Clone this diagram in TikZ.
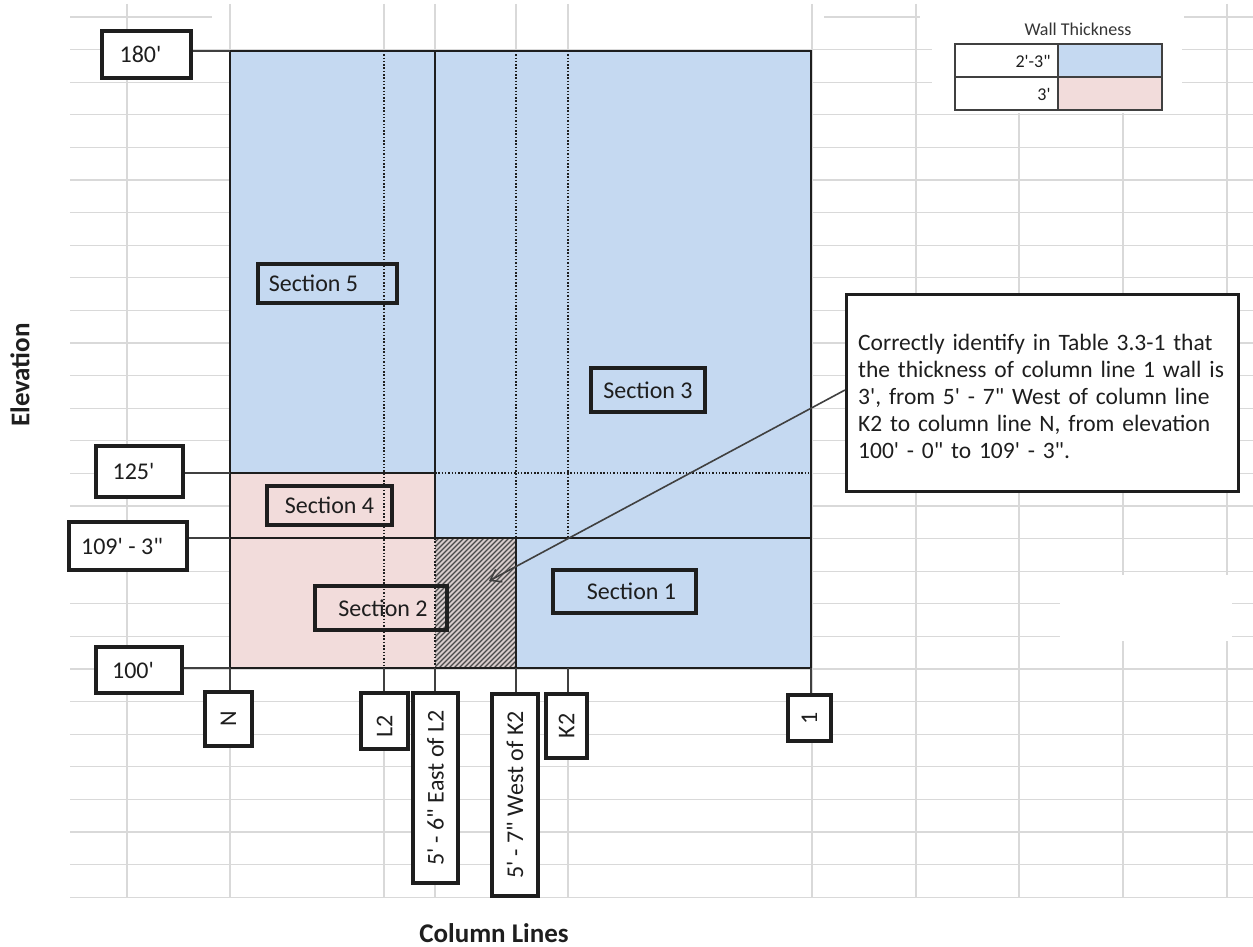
\documentclass[tikz,border=0pt]{standalone}
\usepackage{fontspec}
\setmainfont{Carlito}[Ligatures=TeXOff]
\usetikzlibrary{arrows.meta}
\definecolor{wallblue}{HTML}{C5D9F1}
\definecolor{wallpink}{HTML}{F2DCDB}
\definecolor{gridgray}{HTML}{D9D9D9}
\definecolor{ink}{HTML}{1E1E1E}
\definecolor{hatchbg}{HTML}{D8CCCC}
\definecolor{hatchline}{HTML}{4A4A4A}
\begin{document}
\begin{tikzpicture}[x=1pt,y=-1pt,
  gridline/.style={gridgray, line width=1.2pt},
  lblbox/.style={draw=ink, line width=3.5pt, fill=white, inner sep=0pt, text=ink, font=\fontsize{24}{28}\selectfont},
  secbox/.style={draw=ink, line width=4pt, inner sep=0pt, text=ink, font=\fontsize{24}{28}\selectfont},
  conn/.style={draw=ink!85, line width=1.8pt},
  dotline/.style={ink, line width=1.6pt, dash pattern=on 1.5pt off 1.8pt},
  solidline/.style={ink, line width=2.2pt},
  axislabel/.style={text=ink, font=\bfseries\fontsize{27}{30}\selectfont},
]
\useasboundingbox (0,0) rectangle (1253,947);
\fill[white] (0,0) rectangle (1253,947);
% spreadsheet grid
\draw[gridline] (70,17) -- (212,17) (824,17) -- (920,17) (1184,17) -- (1253,17);
\foreach \k in {1,...,27} \draw[gridline] (70,{17+32.6*\k}) -- (1253,{17+32.6*\k});
\foreach \x in {127,230,384,435,516,568,812,916,1019,1123,1227} \draw[gridline] (\x,4) -- (\x,897);
\fill[white] (1060,575) rectangle (1232,641);
\fill[white] (932,0) rectangle (1182,113);
% wall fills
\fill[wallblue] (230,51) rectangle (811,668);
\fill[wallpink] (230,473) rectangle (435,668);
\begin{scope}
  \clip (435,538) rectangle (516,668);
  \fill[hatchbg] (435,538) rectangle (516,668);
  \foreach \i in {-140,-135,...,85} \draw[hatchline, line width=1.2pt] ({435+\i},672) -- ++(140,-140);
\end{scope}
% column / elevation lines
\draw[dotline] (384,51) -- (384,668);
\draw[dotline] (516,51) -- (516,538);
\draw[dotline] (568,51) -- (568,538);
\draw[dotline] (435,538) -- (435,668);
\draw[dotline] (435,473) -- (811,473);
\draw[solidline] (435,51) -- (435,538);
\draw[solidline] (516,538) -- (516,668);
\draw[solidline] (230,473) -- (435,473);
\draw[solidline] (230,538) -- (811,538);
\draw[solidline] (230,51) rectangle (811,668);
% anchor points on the wall outline
\coordinate (e180) at (230,51);
\coordinate (e125) at (230,473);
\coordinate (e109) at (230,538);
\coordinate (e100) at (230,668);
\coordinate (cN) at (230,668);
\coordinate (cL2) at (384,668);
\coordinate (cE) at (435,668);
\coordinate (cW) at (516,668);
\coordinate (cK2) at (568,668);
\coordinate (c1) at (811,668);
% elevation labels
\node[lblbox, minimum width=89pt, minimum height=47pt] (l180) at (146.5,54.5) {180'\hspace{12pt}\null};
\node[lblbox, minimum width=87pt, minimum height=51pt] (l125) at (139.5,471.5) {125'\hspace{12pt}\null};
\node[lblbox, minimum width=118pt, minimum height=48pt] (l109) at (128,546) {109' - 3"\hspace{12pt}\null};
\node[lblbox, minimum width=86pt, minimum height=46pt] (l100) at (139,670) {100'\hspace{12pt}\null};
\draw[conn] (l180.east |- e180) -- (e180);
\draw[conn] (l125.east |- e125) -- (e125);
\draw[conn] (l109.east |- e109) -- (e109);
\draw[conn] (l100.east |- e100) -- (e100);
% column labels
\draw[conn] (cN) -- (cN |- 0,693);
\draw[conn] (cL2) -- (cL2 |- 0,694);
\draw[conn] (cE) -- (cE |- 0,694);
\draw[conn] (cW) -- (cW |- 0,695);
\draw[conn] (cK2) -- (cK2 |- 0,695);
\draw[conn] (c1) -- (c1 |- 0,696);
\node[lblbox, rotate=90, minimum width=54pt, minimum height=47pt] (bN) at (228.5,719) {N};
\node[lblbox, rotate=90, minimum width=56pt, minimum height=47pt] (bL2) at (384.5,721) {L2\hspace{10pt}\null};
\node[lblbox, rotate=90, minimum width=190pt, minimum height=45pt] (bE) at (435.5,788) {5' - 6" East of L2};
\node[lblbox, rotate=90, minimum width=202pt, minimum height=46pt] (bW) at (515,795) {5' - 7" West of K2};
\node[lblbox, rotate=90, minimum width=64pt, minimum height=41pt] (bK2) at (566.5,726) {K2};
\node[lblbox, rotate=90, minimum width=46pt, minimum height=43pt] (b1) at (809.5,718) {1};
% section labels
\node[secbox, minimum width=139pt, minimum height=39pt] (sec5) at (327.5,283.5) {Section 5\hspace{28pt}\null};
\node[secbox, minimum width=114pt, minimum height=44pt] (sec3) at (648,390) {Section 3};
\node[secbox, minimum width=125pt, minimum height=39pt] (sec4) at (329.5,505.5) {Section 4};
\node[secbox, minimum width=132pt, minimum height=44pt] (sec2) at (381,608) {\hspace{4pt}Section 2};
\node[secbox, minimum width=143pt, minimum height=43pt] (sec1) at (624.5,591.5) {\hspace{14pt}Section 1};
% callout
\node[draw=ink, line width=3pt, fill=white, minimum width=392pt, minimum height=197pt, inner sep=0pt, anchor=north west] (callout) at (845,293) {};
\node[anchor=north west, inner sep=0pt, text width=375pt, align=left, text=ink, font=\fontsize{23.5}{27}\selectfont] (callouttext) at (858,334)
  {\mbox{Correctly identify in Table 3.3-1 that}\\
   \mbox{the thickness of column line 1 wall is}\\
   \mbox{3', from 5' - 7" West of column line}\\
   \mbox{K2 to column line N, from elevation}\\
   \mbox{100' - 0" to 109' - 3".}};
\coordinate (tip) at (489,581);
\draw[conn, line width=1.6pt, -{Straight Barb[length=10pt,width=14pt]}] ([yshift=3pt]callout.west) -- (tip);
% legend
\node[text=ink!90, font=\fontsize{18}{20}\selectfont] (legtitle) at (1078,29) {Wall Thickness};
\fill[wallblue] (1058,44) rectangle (1162,77);
\fill[wallpink] (1058,77) rectangle (1162,110);
\draw[ink!85, line width=1.8pt] (955,44) rectangle (1162,110) (955,77) -- (1162,77) (1058,44) -- (1058,110);
\node[anchor=east, text=ink, font=\fontsize{18}{20}\selectfont] (leg1) at (1054,61) {2'-3"};
\node[anchor=east, text=ink, font=\fontsize{18}{20}\selectfont] (leg2) at (1054,94) {3'};
% axis titles
\node[axislabel, rotate=90] (elev) at (20,375) {Elevation};
\node[axislabel] (collines) at (494,933) {Column Lines};
\end{tikzpicture}
\end{document}
